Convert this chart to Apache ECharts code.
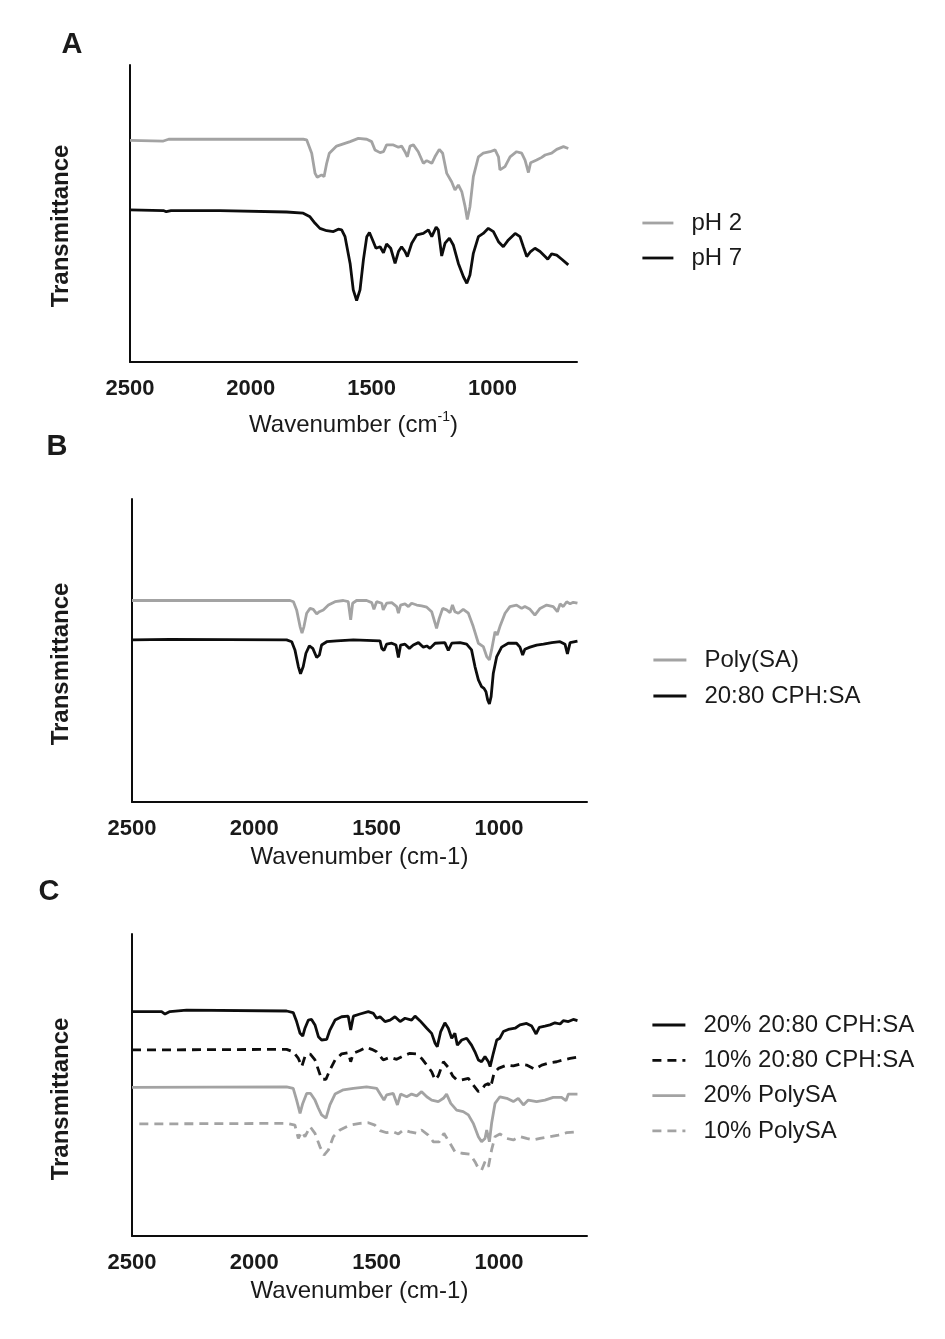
<!DOCTYPE html>
<html>
<head>
<meta charset="utf-8">
<title>FTIR spectra</title>
<script src="https://cdn.jsdelivr.net/npm/echarts@6/dist/echarts.min.js"></script>
<style>
  html, body { margin: 0; padding: 0; background: #ffffff; }
  #chart { width: 945px; height: 1339px; }
</style>
</head>
<body>
<div id="chart"></div>
<script>
// Wavenumber tick labels shared by all three panels (cm-1)
const tickLabels = [2500, 2000, 1500, 1000];

// Panel A: spectra at pH 2 and pH 7, [wavenumber, transmittance (a.u.)]
const ph2 = [[2500,74.6],[2362,74.4],[2340,75.0],[1783,75.0],[1769,74.8],[1748,70.3],[1734,63.5],[1725,62.2],[1707,63.0],[1697,62.4],[1686,66.9],[1675,70.3],[1645,72.7],[1589,74.2],[1555,75.3],[1520,75.0],[1500,74.2],[1486,71.4],[1465,70.5],[1451,70.8],[1438,73.1],[1410,73.1],[1389,72.3],[1376,72.7],[1362,70.8],[1352,69.1],[1341,72.7],[1327,73.1],[1307,70.8],[1286,66.9],[1272,67.8],[1251,66.9],[1238,69.1],[1220,71.6],[1206,70.3],[1189,63.5],[1169,60.7],[1155,57.9],[1141,59.6],[1127,57.4],[1113,52.3],[1104,48.0],[1093,52.3],[1079,62.4],[1058,69.1],[1038,70.3],[1010,70.8],[989,71.4],[975,69.1],[969,64.7],[948,65.8],[927,69.1],[900,70.8],[879,70.3],[865,68.0],[851,63.8],[842,67.1],[817,68.0],[796,68.9],[782,69.7],[755,70.3],[734,71.6],[706,72.5],[686,71.9]];
const ph7 = [[2500,51.2],[2362,51.0],[2350,50.6],[2330,51.0],[2128,51.0],[1852,50.5],[1783,50.1],[1755,48.9],[1734,46.7],[1714,45.0],[1686,44.2],[1658,43.9],[1638,44.7],[1624,44.5],[1610,42.2],[1589,33.2],[1576,24.3],[1562,20.7],[1548,24.3],[1534,34.4],[1520,42.2],[1509,43.6],[1496,41.1],[1482,38.3],[1465,38.8],[1451,36.8],[1438,39.7],[1421,38.3],[1403,33.2],[1389,37.2],[1376,38.8],[1362,37.2],[1352,35.5],[1334,40.0],[1313,42.8],[1286,43.3],[1265,44.5],[1251,42.2],[1233,45.4],[1224,44.5],[1210,35.7],[1196,40.0],[1178,41.7],[1162,39.4],[1141,33.2],[1120,28.7],[1106,26.5],[1093,29.3],[1079,36.6],[1058,42.2],[1038,43.3],[1017,45.0],[996,43.9],[975,40.5],[955,38.8],[934,41.1],[906,43.3],[886,42.2],[872,38.8],[858,35.5],[842,37.2],[824,38.3],[803,37.2],[782,35.5],[771,34.6],[755,36.4],[734,36.0],[713,34.6],[686,32.7]];

// Panel B: Poly(SA) and 20:80 CPH:SA
const polySA = [[2500,66.5],[1854,66.5],[1840,66.1],[1827,63.4],[1813,57.9],[1805,55.7],[1797,57.9],[1786,62.3],[1772,63.9],[1759,63.6],[1745,62.1],[1734,62.8],[1718,63.4],[1697,65.0],[1670,66.1],[1636,66.5],[1616,66.1],[1606,60.1],[1598,65.6],[1582,66.5],[1541,66.5],[1520,65.8],[1511,63.6],[1500,66.1],[1479,65.6],[1473,63.4],[1459,65.6],[1438,65.8],[1418,64.5],[1411,62.3],[1402,65.0],[1384,65.4],[1370,64.5],[1357,65.6],[1336,65.0],[1316,64.7],[1295,64.3],[1275,62.8],[1261,59.0],[1255,57.3],[1244,60.6],[1230,63.9],[1214,63.4],[1200,62.5],[1190,65.0],[1180,62.8],[1166,62.3],[1146,63.6],[1125,62.3],[1105,57.9],[1084,52.4],[1064,51.3],[1050,48.0],[1039,46.9],[1030,50.2],[1016,56.2],[1007,55.1],[996,57.9],[975,62.3],[955,64.5],[928,65.0],[907,63.9],[894,64.5],[873,63.6],[853,61.7],[832,63.9],[805,65.0],[778,64.5],[761,62.8],[750,65.4],[737,64.5],[723,66.1],[709,65.4],[696,65.9],[679,65.6]];
const cphSA = [[2500,53.5],[2345,53.7],[1868,53.5],[1847,52.9],[1834,50.2],[1820,44.7],[1811,42.3],[1800,44.7],[1789,49.1],[1775,51.5],[1761,50.7],[1745,47.7],[1734,48.5],[1725,51.8],[1704,52.9],[1663,53.2],[1595,53.5],[1486,53.2],[1479,50.7],[1470,50.0],[1459,52.1],[1438,52.4],[1421,51.8],[1411,47.7],[1402,51.8],[1384,52.1],[1366,50.7],[1350,51.8],[1329,52.6],[1309,51.1],[1295,51.5],[1282,50.7],[1261,52.4],[1221,52.6],[1207,50.0],[1193,52.4],[1159,52.6],[1132,52.1],[1112,50.2],[1098,44.7],[1084,40.3],[1071,38.1],[1061,37.5],[1053,36.4],[1046,33.7],[1039,32.4],[1032,34.8],[1023,42.5],[1009,48.0],[989,51.1],[962,52.4],[928,52.4],[914,51.1],[903,48.5],[894,50.4],[873,51.1],[846,51.8],[818,52.1],[784,52.6],[750,52.9],[730,52.1],[720,48.9],[709,52.6],[679,53.1]];

// Panel C: 20 % and 10 % loadings of each polymer
const cph20 = [[2500,74.3],[2379,74.3],[2365,73.5],[2345,74.3],[2277,74.8],[1868,74.5],[1841,74.0],[1827,71.0],[1813,67.1],[1802,66.2],[1793,68.8],[1779,71.5],[1766,71.7],[1752,69.9],[1738,66.0],[1725,64.9],[1704,65.1],[1691,68.2],[1670,71.5],[1643,72.6],[1616,72.8],[1606,68.2],[1595,72.8],[1568,73.5],[1534,74.3],[1513,73.7],[1500,72.1],[1486,72.6],[1466,71.0],[1445,71.5],[1425,72.6],[1404,71.0],[1384,72.1],[1357,71.5],[1343,72.8],[1323,71.3],[1295,68.8],[1275,67.1],[1261,63.8],[1252,62.7],[1238,67.7],[1221,70.6],[1207,68.8],[1193,65.5],[1180,67.1],[1170,63.2],[1152,64.9],[1132,65.5],[1112,63.2],[1098,61.0],[1084,58.3],[1071,57.7],[1057,59.4],[1043,57.7],[1036,56.1],[1023,60.5],[1009,64.9],[996,65.5],[982,67.7],[962,68.4],[934,68.8],[914,69.9],[887,70.4],[866,69.5],[848,66.9],[835,69.1],[812,69.5],[791,69.9],[771,70.6],[750,70.2],[737,71.3],[716,71.0],[696,71.7],[679,71.3]];
const cph10 = [[2500,61.6],[1868,61.8],[1841,61.0],[1820,58.8],[1806,56.1],[1793,59.4],[1772,60.3],[1752,58.3],[1738,55.0],[1725,51.9],[1707,51.9],[1691,55.0],[1670,58.3],[1643,60.3],[1616,60.7],[1606,57.7],[1595,60.5],[1568,61.4],[1541,62.5],[1520,61.8],[1500,61.0],[1473,58.3],[1445,59.2],[1418,58.5],[1391,59.6],[1364,60.5],[1336,60.3],[1316,58.8],[1295,56.6],[1275,54.4],[1261,51.7],[1248,53.0],[1227,57.7],[1207,55.8],[1189,53.0],[1173,51.7],[1152,51.7],[1125,52.2],[1105,50.0],[1084,47.8],[1071,48.4],[1057,50.0],[1043,50.5],[1034,49.2],[1020,53.9],[1002,55.5],[968,56.6],[941,56.3],[914,56.9],[887,56.6],[853,55.2],[825,56.6],[791,57.4],[764,57.7],[737,58.3],[709,58.8],[679,59.2]];
const poly20 = [[2500,49.2],[1868,49.4],[1841,48.9],[1827,45.0],[1813,40.6],[1802,43.9],[1786,47.2],[1770,47.2],[1752,45.0],[1738,42.3],[1725,40.1],[1707,39.0],[1691,43.4],[1670,47.0],[1636,48.4],[1595,48.9],[1541,49.4],[1500,48.9],[1483,46.7],[1470,45.0],[1459,46.7],[1432,47.2],[1415,43.4],[1402,47.0],[1377,46.1],[1357,47.0],[1336,46.4],[1316,47.8],[1295,46.1],[1275,45.0],[1248,44.5],[1227,45.6],[1214,47.0],[1197,43.9],[1173,41.7],[1146,41.2],[1125,40.1],[1105,37.3],[1084,32.9],[1071,31.2],[1057,32.3],[1050,35.1],[1039,31.2],[1030,37.3],[1016,43.9],[996,46.1],[968,45.6],[941,44.5],[921,45.6],[900,43.4],[880,45.0],[846,44.5],[812,45.0],[778,45.9],[744,45.9],[726,44.8],[716,47.0],[679,47.0]];
const poly10 = [[2470,37.1],[1868,37.3],[1834,36.7],[1820,32.3],[1806,34.5],[1793,32.9],[1772,36.2],[1752,34.0],[1732,29.6],[1715,26.8],[1697,28.5],[1677,32.9],[1650,35.1],[1609,36.7],[1568,37.3],[1534,37.5],[1507,36.7],[1486,34.9],[1459,34.2],[1432,34.5],[1411,33.8],[1391,35.1],[1364,34.5],[1336,34.0],[1316,35.1],[1289,33.4],[1268,31.2],[1244,31.2],[1225,34.0],[1200,30.7],[1180,27.9],[1152,27.4],[1118,27.1],[1098,24.6],[1084,22.4],[1071,21.8],[1057,24.6],[1043,22.9],[1030,28.5],[1016,32.9],[996,33.8],[968,32.3],[941,31.8],[914,32.9],[887,32.3],[859,31.8],[832,32.3],[791,32.9],[757,33.4],[723,34.2],[679,34.5]];

const FONT = '"Liberation Sans", Arial, Helvetica, sans-serif';
const BLACK = '#0d0d0d';
const GREY = '#a3a3a3';
const TEXT = '#1a1a1a';

const grids = [
  { left: 130, top: 65,  width: 447, height: 297 },
  { left: 132, top: 499, width: 455, height: 303 },
  { left: 132, top: 934, width: 455, height: 302 }
];

function xAxisFor(gridIndex, min, name, nameGap, rich) {
  return {
    type: 'value', gridIndex, min, max: 2500, inverse: true,
    axisLine: { show: true, onZero: false, lineStyle: { color: BLACK, width: 2 } },
    axisTick: { show: false },
    splitLine: { show: false },
    axisLabel: {
      customValues: tickLabels, margin: 16,
      formatter: (v) => String(v),
      fontFamily: FONT, fontSize: 22, fontWeight: 'bold', color: TEXT, lineHeight: 22
    },
    name, nameLocation: 'middle', nameGap,
    nameTextStyle: Object.assign({
      fontFamily: FONT, fontSize: 24, color: TEXT, lineHeight: 23
    }, rich || {})
  };
}

function yAxisFor(gridIndex) {
  return {
    type: 'value', gridIndex, min: 0, max: 100,
    axisLine: { show: true, lineStyle: { color: BLACK, width: 2 } },
    axisTick: { show: false },
    axisLabel: { show: false },
    splitLine: { show: false }
  };
}

function line(name, data, idx, color, dashed) {
  return {
    name, type: 'line', data, xAxisIndex: idx, yAxisIndex: idx,
    symbol: 'none', smooth: false, silent: true,
    lineStyle: { color, width: 2.8, type: dashed ? [9, 6] : 'solid' },
    itemStyle: { color }
  };
}

// Legends show only the line stroke of each series (no marker)
function legendFor(names, left, top, itemWidth, itemGap) {
  return {
    orient: 'vertical', left, top, itemWidth, itemHeight: 14, itemGap,
    padding: 0,
    data: names, selectedMode: false,
    itemStyle: { opacity: 0 },
    lineStyle: { width: 2.8 },
    textStyle: { fontFamily: FONT, fontSize: 24, color: TEXT, lineHeight: 24, padding: [0, 0, 0, 13] }
  };
}

function letter(text, x, y) {
  return {
    type: 'text', x, y,
    style: { text, fontFamily: FONT, fontSize: 29, fontWeight: 'bold', fill: TEXT, align: 'center', verticalAlign: 'middle' }
  };
}

function yTitle(x, y) {
  return {
    type: 'text', x, y, rotation: Math.PI / 2,
    style: { text: 'Transmittance', fontFamily: FONT, fontSize: 24, fontWeight: 'bold', fill: TEXT, align: 'center', verticalAlign: 'middle' }
  };
}

const chart = echarts.init(document.getElementById('chart'), null, { renderer: 'canvas' });
chart.setOption({
  animation: false,
  backgroundColor: '#ffffff',
  grid: grids,
  xAxis: [
    xAxisFor(0, 650, 'Wavenumber (cm{sup|-1})', 48, {
      lineHeight: 31,
      rich: { sup: { fontFamily: FONT, fontSize: 14, lineHeight: 14, verticalAlign: 'top', color: TEXT } }
    }),
    xAxisFor(1, 640, 'Wavenumber (cm-1)', 44),
    xAxisFor(2, 640, 'Wavenumber (cm-1)', 44)
  ],
  yAxis: [yAxisFor(0), yAxisFor(1), yAxisFor(2)],
  legend: [
    legendFor(['pH 2', 'pH 7'], 641, 211, 31, 11),
    legendFor(['Poly(SA)', '20:80 CPH:SA'], 652, 648, 33, 12),
    legendFor(['20% 20:80 CPH:SA', '10% 20:80 CPH:SA', '20% PolySA', '10% PolySA'], 651, 1013, 33, 11.3)
  ],
  series: [
    line('pH 2', ph2, 0, GREY, false),
    line('pH 7', ph7, 0, BLACK, false),
    line('Poly(SA)', polySA, 1, GREY, false),
    line('20:80 CPH:SA', cphSA, 1, BLACK, false),
    line('20% 20:80 CPH:SA', cph20, 2, BLACK, false),
    line('10% 20:80 CPH:SA', cph10, 2, BLACK, true),
    line('20% PolySA', poly20, 2, GREY, false),
    line('10% PolySA', poly10, 2, GREY, true)
  ],
  graphic: [
    letter('A', 72, 45),
    letter('B', 57, 447),
    letter('C', 49, 892),
    yTitle(61, 226),
    yTitle(61, 664),
    yTitle(61, 1099)
  ]
});
</script>
</body>
</html>
